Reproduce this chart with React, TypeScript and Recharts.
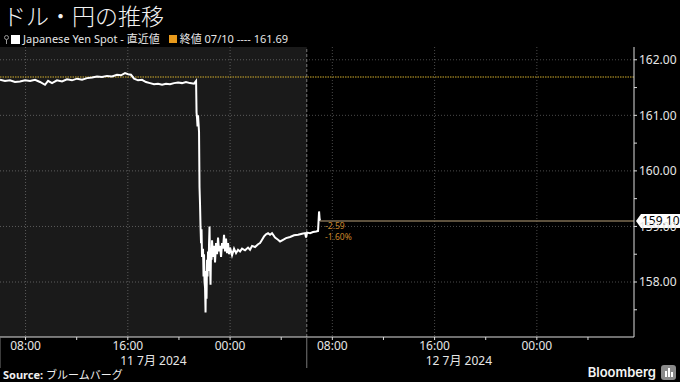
import {
  LineChart,
  Line,
  XAxis,
  YAxis,
  CartesianGrid,
  ReferenceArea,
  ReferenceLine,
} from "recharts";

// hours counted from 11 Jul 2024 00:00 (JST)
const hours = [
  6.0, 6.39, 6.78, 7.17, 7.56, 7.96, 8.35, 8.74, 9.13, 9.52, 9.76, 10.07, 10.46, 10.85, 11.24, 11.63,
  12.03, 12.42, 12.81, 13.2, 13.59, 13.98, 14.37, 14.76, 15.15, 15.47, 15.78, 16.02, 16.25, 16.49, 16.8,
  17.11, 17.42, 17.74, 18.05, 18.36, 18.68, 18.99, 19.3, 19.62, 19.93, 20.24, 20.55, 20.87, 21.18, 21.34,
  21.376, 21.415, 21.454, 21.493, 21.532, 21.571, 21.61, 21.649, 21.689, 21.728, 21.767, 21.806, 21.884,
  21.923, 21.962, 22.002, 22.041, 22.08, 22.119, 22.158, 22.197, 22.236, 22.275, 22.315, 22.354, 22.393,
  22.432, 22.471, 22.51, 22.549, 22.588, 22.667, 22.745, 22.823, 22.901, 22.98, 23.058, 23.136, 23.214,
  23.293, 23.371, 23.449, 23.527, 23.606, 23.684, 23.762, 23.84, 23.919, 23.997, 24.153, 24.31, 24.466,
  24.623, 24.779, 24.936, 25.171, 25.405, 25.562, 25.718, 25.953, 26.188, 26.344, 26.501, 26.657, 26.814,
  26.97, 27.127, 27.283, 27.518, 27.753, 27.909, 28.144, 28.379, 28.692, 29.005, 29.318, 29.631, 29.865,
  29.944, 30.022, 30.257, 30.491, 30.726, 30.883, 30.961, 31.0, 31.039,
];

const yenSpot = [
  161.64, 161.62, 161.63, 161.6, 161.61, 161.63, 161.62, 161.64, 161.6, 161.55, 161.62, 161.58, 161.63,
  161.61, 161.65, 161.63, 161.66, 161.64, 161.67, 161.68, 161.7, 161.69, 161.71, 161.7, 161.73, 161.72,
  161.76, 161.74, 161.73, 161.66, 161.63, 161.64, 161.6, 161.58, 161.56, 161.57, 161.55, 161.57, 161.56,
  161.58, 161.59, 161.58, 161.6, 161.58, 161.57, 161.62,
  161.05, 160.95, 160.8, 161.0, 160.85, 160.7, 159.7, 159.4, 159.0, 158.7, 158.95, 158.45, 158.6, 158.1,
  158.5, 158.0, 157.9, 157.45, 158.2, 157.7, 158.4, 158.1, 158.55, 158.2, 158.7, 159.0, 158.3, 157.95,
  158.6, 158.4, 158.75, 158.45, 158.65, 158.35, 158.7, 158.5, 158.8, 158.55, 158.65, 158.45, 158.7, 158.6,
  158.85, 158.55, 158.78, 158.52, 158.7, 158.5, 158.62, 158.48, 158.6, 158.52, 158.58, 158.55, 158.6,
  158.57, 158.62, 158.58, 158.65, 158.63, 158.68, 158.7, 158.76, 158.82, 158.86, 158.88, 158.85, 158.88,
  158.8, 158.76, 158.73, 158.76, 158.79, 158.81, 158.84, 158.85, 158.87, 158.88, 158.8, 158.89, 158.88,
  158.9, 158.91, 158.92, 159.27, 159.15, 159.1,
];

const prevClose = 161.69;
const lastValue = 159.1;
const lastChange = "-2.59";
const lastChangePct = "-1.60%";

const xDomain = [6, 55.6];
const yDomain = [157.01, 162.23];
const sessionEnd = 30; // 12 Jul 06:00

const timeTicks = [8, 12, 16, 20, 24, 28, 32, 36, 40, 44, 48, 52];
const timeLabels: Record<number, string> = {
  8: "08:00",
  16: "16:00",
  24: "00:00",
  32: "08:00",
  40: "16:00",
  48: "00:00",
};
const dayTicks = [6, 18, 30, 41.9];
const dayLabels: Record<number, string> = { 18: "11 7月 2024", 41.9: "12 7月 2024" };
const dayBreaks = [6, 30];

const yTicks = [157.5, 158, 158.5, 159, 159.5, 160, 160.5, 161, 161.5, 162];
const gridY = [158, 159, 160, 161, 162];
const gridX = [8, 16, 24, 32, 40, 48];

const chartData = hours.map((h, i) => ({ h, v: yenSpot[i] }));

const AXIS1_H = 14;
const DAY_MARGIN = 5;
const FONT = "'Noto Sans', 'Noto Sans CJK JP', sans-serif";

function DayTick(props: any) {
  const { x, y, payload } = props;
  if (dayBreaks.includes(payload.value)) {
    return (
      <line
        x1={x}
        x2={x}
        y1={y - DAY_MARGIN - AXIS1_H}
        y2={y + 12}
        stroke="#777"
        strokeWidth={1}
      />
    );
  }
  return (
    <text x={x} y={y} dy="0.71em" textAnchor="middle" fill="#e6e6e6" fontSize={12} fontFamily={FONT}>
      {dayLabels[payload.value]}
    </text>
  );
}

function LastLabel(props: any) {
  const { viewBox } = props;
  const x0 = viewBox.x;
  const y0 = viewBox.y;
  const xr = viewBox.x + viewBox.width;
  return (
    <g>
      <text x={x0 + 5} y={y0 + 8} fill="#c8862a" fontSize={8.5} fontFamily={FONT}>
        {lastChange}
      </text>
      <text x={x0 + 5} y={y0 + 19} fill="#c8862a" fontSize={8.5} fontFamily={FONT}>
        {lastChangePct}
      </text>
      <polygon
        points={`${xr + 2},${y0} ${xr + 7},${y0 - 7} ${xr + 46},${y0 - 7} ${xr + 46},${y0 + 7} ${xr + 7},${y0 + 7}`}
        fill="#ffffff"
      />
      <text x={xr + 8} y={y0 + 4.5} fill="#000" fontSize={12} fontFamily={FONT}>
        {lastValue.toFixed(2)}
      </text>
    </g>
  );
}

export default function App() {
  return (
    <div
      style={{
        position: "relative",
        width: 680,
        height: 382,
        background: "#000",
        overflow: "hidden",
        fontFamily: FONT,
      }}
    >
      <style>{"body{margin:0;background:#000}"}</style>
      <div
        style={{
          position: "absolute",
          left: 3,
          top: 2,
          fontSize: 23,
          fontWeight: 300,
          color: "#f2f2f2",
          fontFamily: "'Noto Sans CJK JP', sans-serif",
          lineHeight: "26px",
          whiteSpace: "nowrap",
        }}
      >
        ドル・円の推移
      </div>
      <div
        style={{
          position: "absolute",
          left: 4,
          top: 32,
          fontSize: 11,
          color: "#e6e6e6",
          display: "flex",
          alignItems: "center",
          whiteSpace: "nowrap",
          lineHeight: "14px",
        }}
      >
        <svg width={5} height={9} style={{ marginRight: 2 }}>
          <circle cx={2.5} cy={2.5} r={2} fill="none" stroke="#999" strokeWidth={1} />
          <line x1={2.5} x2={2.5} y1={4.5} y2={9} stroke="#999" strokeWidth={1} />
        </svg>
        <span style={{ display: "inline-block", width: 9, height: 9, background: "#fff", marginRight: 3 }} />
        <span>Japanese Yen Spot - 直近値</span>
        <span style={{ display: "inline-block", width: 8, height: 8, background: "#e89a1c", marginLeft: 9, marginRight: 3 }} />
        <span>終値 07/10 ---- {prevClose.toFixed(2)}</span>
      </div>

      <div style={{ position: "absolute", left: 0, top: 0 }}>
        <LineChart
          width={680}
          height={372}
          data={chartData}
          margin={{ top: 47, right: 0, bottom: 1, left: 0 }}
        >
          <ReferenceArea
            x1={xDomain[0]}
            x2={sessionEnd}
            y1={yDomain[0]}
            y2={yDomain[1]}
            fill="#ffffff"
            fillOpacity={0.1}
            stroke="none"
            ifOverflow="hidden"
          />
          <CartesianGrid
            stroke="#4a4a4a"
            strokeDasharray="1 2"
            horizontalValues={gridY}
            verticalValues={gridX}
          />
          <XAxis
            dataKey="h"
            type="number"
            domain={xDomain}
            allowDataOverflow
            ticks={timeTicks}
            tickFormatter={(v: number) => timeLabels[v] ?? ""}
            interval={0}
            height={AXIS1_H}
            tickSize={3}
            tickMargin={1}
            axisLine={{ stroke: "#ddd" }}
            tickLine={{ stroke: "#ddd" }}
            tick={{ fill: "#e6e6e6", fontSize: 12, fontFamily: FONT }}
          />
          <XAxis
            xAxisId="day"
            dataKey="h"
            type="number"
            domain={xDomain}
            allowDataOverflow
            ticks={dayTicks}
            interval={0}
            height={20}
            tickSize={0}
            tickMargin={DAY_MARGIN}
            axisLine={false}
            tickLine={false}
            tick={<DayTick />}
          />
          <YAxis
            orientation="right"
            domain={yDomain}
            allowDataOverflow
            ticks={yTicks}
            interval={0}
            width={46}
            tickSize={3}
            tickMargin={2}
            tickFormatter={(v: number) => (Number.isInteger(v) ? v.toFixed(2) : "")}
            axisLine={{ stroke: "#ddd" }}
            tickLine={{ stroke: "#ddd" }}
            tick={{ fill: "#e6e6e6", fontSize: 12, fontFamily: FONT }}
          />
          <ReferenceLine x={sessionEnd} stroke="#777" strokeDasharray="3 2" />
          <ReferenceLine y={prevClose} stroke="#d2ae2c" strokeDasharray="1.5 1" />
          <Line
            type="linear"
            dataKey="v"
            stroke="#ffffff"
            strokeWidth={2}
            dot={false}
            isAnimationActive={false}
          />
          <ReferenceLine
            segment={[
              { x: hours[hours.length - 1], y: lastValue },
              { x: xDomain[1], y: lastValue },
            ]}
            stroke="#7d6c52"
            strokeWidth={1.5}
            ifOverflow="visible"
            label={<LastLabel />}
          />
        </LineChart>
      </div>

      <div
        style={{
          position: "absolute",
          left: 3,
          top: 368,
          fontSize: 11,
          color: "#f0f0f0",
          whiteSpace: "nowrap",
          lineHeight: "14px",
        }}
      >
        <b>Source:</b> ブルームバーグ
      </div>
      <div
        style={{
          position: "absolute",
          right: 24,
          top: 364,
          fontSize: 13,
          fontWeight: 600,
          color: "#f4f4f4",
          fontFamily: "Inter, sans-serif",
          lineHeight: "16px",
        }}
      >
        Bloomberg
      </div>
      <svg style={{ position: "absolute", left: 661, top: 365 }} width={15} height={15}>
        <rect x={0} y={0} width={15} height={15} rx={3} fill="#8a8a8a" />
        <rect x={4} y={6} width={2} height={6} fill="#fff" />
        <rect x={7} y={3} width={2} height={9} fill="#fff" />
        <rect x={10} y={7} width={2} height={5} fill="#fff" />
      </svg>
    </div>
  );
}
